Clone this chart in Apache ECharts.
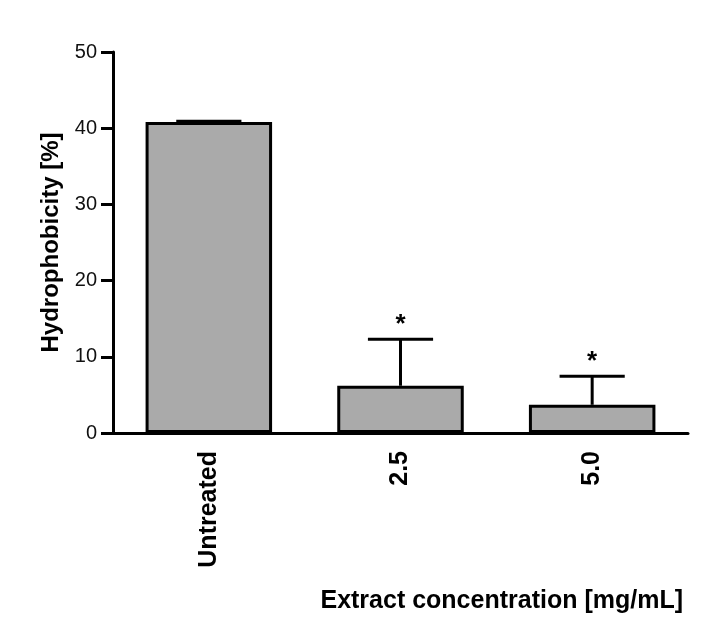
<!DOCTYPE html>
<html>
<head>
<meta charset="utf-8">
<script src="https://cdn.jsdelivr.net/npm/echarts@6/dist/echarts.min.js"></script>
<style>
  html, body { margin: 0; padding: 0; background: #fff; }
  #main { width: 711px; height: 635px; }
</style>
</head>
<body>
<div id="main"></div>
<script>
var categories = ["Untreated", "2.5", "5.0"];
var means = [40.8, 6.2, 3.7];
var errors = [0.1, 6.1, 3.75];
var marks = ["", "*", "*"];
var yTicks = { min: 0, max: 50, step: 10 };

var font = "Liberation Sans, Arial, sans-serif";
var chart = echarts.init(document.getElementById("main"));

var errData = categories.map(function (c, i) {
  return [i, means[i], means[i] + errors[i], marks[i]];
});

chart.setOption({
  animation: false,
  grid: { left: 113, right: 23, top: 52, bottom: 202 },
  xAxis: {
    type: "category",
    data: categories,
    axisLine: { lineStyle: { color: "#000", width: 3 } },
    axisTick: { alignWithLabel: true, length: 11, lineStyle: { color: "#000", width: 3 } },
    axisLabel: {
      rotate: 90, margin: 18, color: "#000", fontFamily: font,
      fontWeight: "bold", fontSize: 25
    }
  },
  yAxis: {
    type: "value",
    min: yTicks.min, max: yTicks.max, interval: yTicks.step,
    name: "Hydrophobicity [%]",
    nameLocation: "middle",
    nameGap: 50,
    nameTextStyle: { color: "#000", fontFamily: font, fontWeight: "bold", fontSize: 24 },
    axisLine: { show: true, lineStyle: { color: "#000", width: 3 } },
    axisTick: { show: true, length: 12, lineStyle: { color: "#000", width: 3 } },
    axisLabel: { margin: 16, color: "#111", fontFamily: font, fontSize: 20 },
    splitLine: { show: false }
  },
  graphic: [{
    type: "text",
    right: 28, top: 589,
    style: {
      text: "Extract concentration [mg/mL]",
      fill: "#000", font: "bold 25px " + font
    }
  }],
  series: [{
    type: "bar",
    data: means,
    barCategoryGap: "34%",
    itemStyle: { color: "#aaaaaa", borderColor: "#000", borderWidth: 3 },
    z: 2
  }, {
    type: "custom",
    data: errData,
    z: 3,
    renderItem: function (params, api) {
      var base = api.coord([api.value(0), api.value(1)]);
      var top = api.coord([api.value(0), api.value(2)]);
      var half = api.size([1, 0])[0] * 0.17;
      var children = [{
        type: "line",
        shape: { x1: base[0], y1: base[1], x2: top[0], y2: top[1] },
        style: { stroke: "#000", lineWidth: 3 }
      }, {
        type: "line",
        shape: { x1: top[0] - half, y1: top[1], x2: top[0] + half, y2: top[1] },
        style: { stroke: "#000", lineWidth: 3 }
      }];
      var m = marks[params.dataIndex];
      if (m) {
        children.push({
          type: "text",
          x: top[0], y: top[1] - 1,
          style: {
            text: m, fill: "#000", font: "bold 26px " + font,
            align: "center", verticalAlign: "bottom"
          }
        });
      }
      return { type: "group", children: children };
    }
  }]
});
</script>
</body>
</html>
